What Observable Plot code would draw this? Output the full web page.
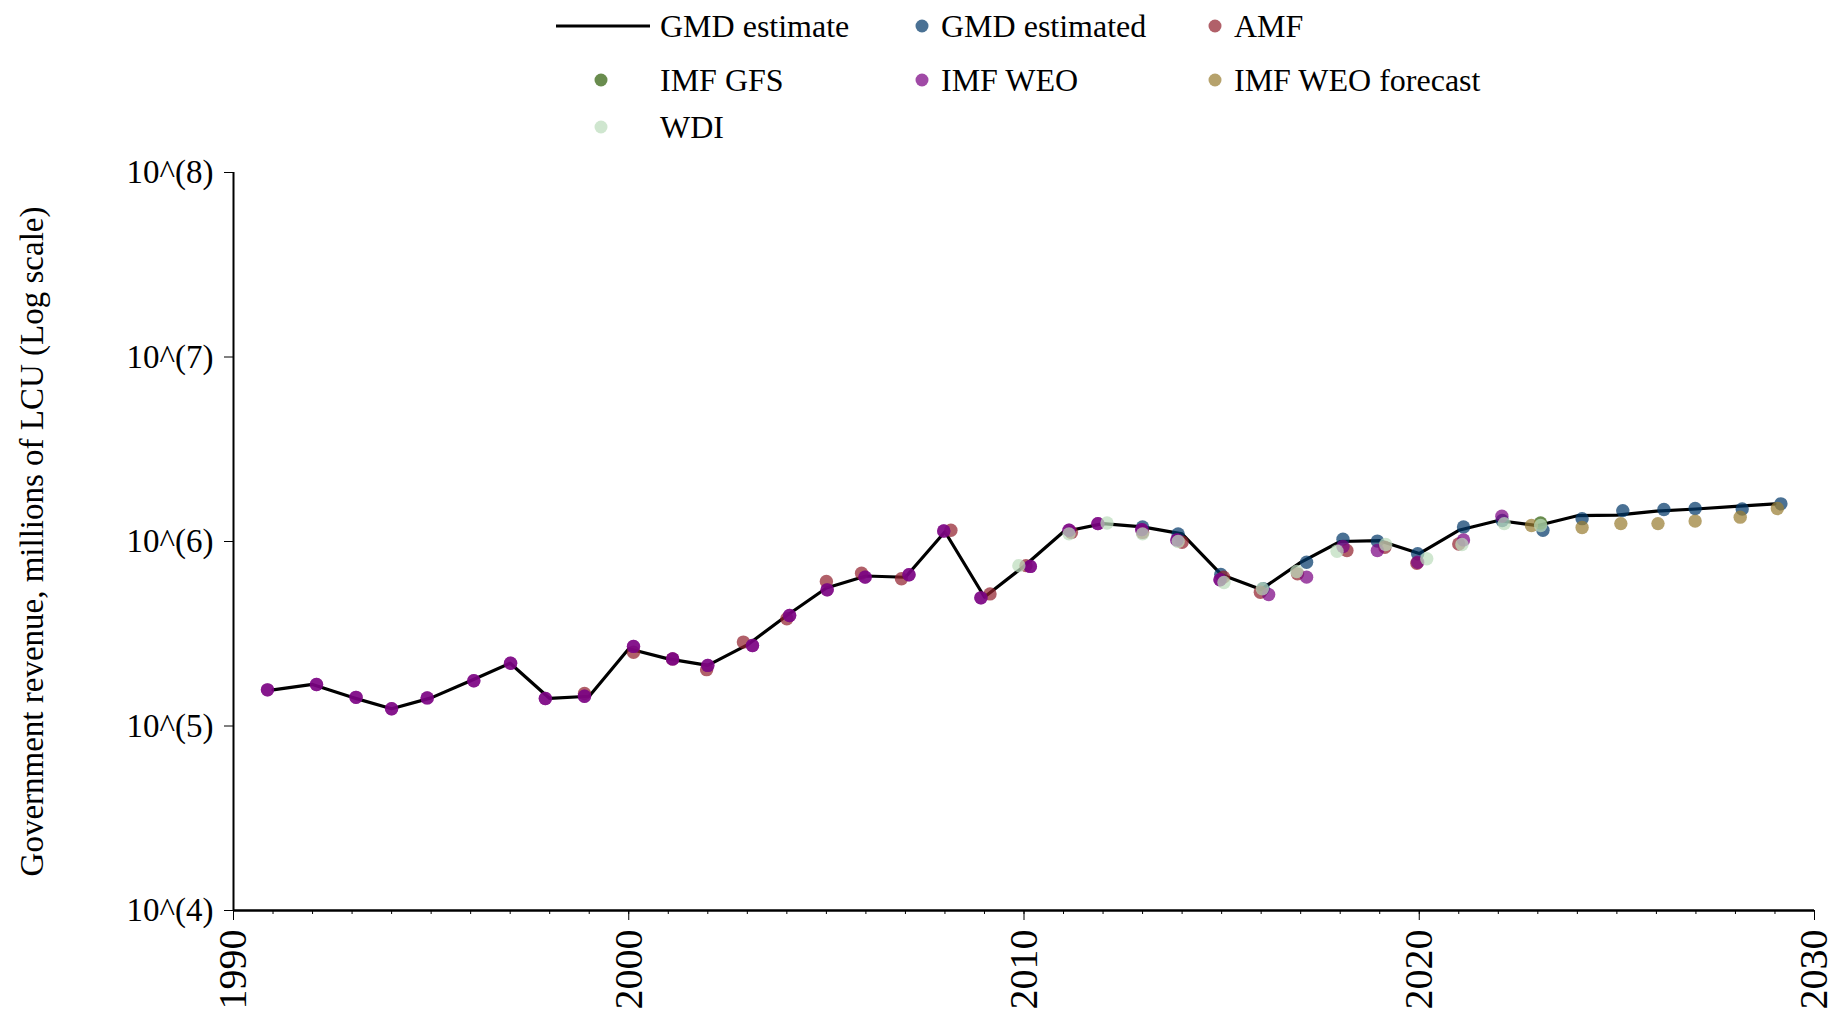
<!DOCTYPE html>
<html>
<head>
<meta charset="utf-8">
<script src="https://cdn.jsdelivr.net/npm/d3@7"></script>
<script src="https://cdn.jsdelivr.net/npm/@observablehq/plot@0.6"></script>
<style>
  html, body { margin: 0; padding: 0; background: #fff; }
  body { width: 1837px; height: 1013px; overflow: hidden; font-family: "Liberation Serif", "Times New Roman", serif; }
  #legend { position: relative; width: 1837px; height: 150px; }
  .lg-text { position: absolute; font-size: 32px; line-height: 32px; color: #000; transform: translateY(-50%); white-space: nowrap; }
  .lg-dot { position: absolute; width: 13px; height: 13px; border-radius: 50%; transform: translate(-50%, -50%); }
  .lg-line { position: absolute; height: 3px; background: #000; transform: translateY(-50%); }
  #chart svg { display: block; }
</style>
</head>
<body>
<div id="legend"></div>
<div id="chart"></div>
<script>
// ---------- data ----------
const lineYears = [1991,1992,1993,1994,1995,1996,1997,1998,1999,2000,2001,2002,2003,2004,2005,2006,2007,2008,2009,2010,2011,2012,2013,2014,2015,2016,2017,2018,2019,2020,2021,2022,2023,2024,2025,2026,2027,2028,2029];
const gmdEstimate = [1.57e5,1.68e5,1.43e5,1.24e5,1.42e5,1.76e5,2.19e5,1.41e5,1.45e5,2.62e5,2.31e5,2.13e5,2.75e5,3.97e5,5.6e5,6.5e5,6.4e5,1.13e6,5.0e5,7.35e5,1.13e6,1.25e6,1.20e6,1.10e6,6.6e5,5.5e5,7.7e5,1.0e6,1.01e6,8.6e5,1.15e6,1.30e6,1.22e6,1.38e6,1.39e6,1.46e6,1.50e6,1.55e6,1.60e6];

// source points (x = year as placed in the picture, points are slightly jittered)
const gmdEstYears = [2013.0,2013.9,2014.98,2016.05,2017.15,2018.07,2018.94,2019.96,2021.12,2022.1,2023.13,2024.12,2025.15,2026.19,2026.98,2028.17,2029.15];
const gmdEstValues = [1.20e6,1.10e6,6.63e5,5.54e5,7.72e5,1.03e6,1.005e6,8.58e5,1.20e6,1.30e6,1.15e6,1.33e6,1.47e6,1.49e6,1.51e6,1.50e6,1.60e6];

const amfYears = [1998.88,2000.12,2001.11,2001.97,2002.9,2004.0,2005.0,2005.89,2006.9,2008.15,2009.14,2010.05,2011.2,2013.0,2014.0,2015.05,2015.98,2016.92,2018.17,2019.13,2019.94,2021.0];
const amfValues = [1.50e5,2.51e5,2.31e5,2.02e5,2.85e5,3.81e5,6.07e5,6.73e5,6.28e5,1.15e6,5.2e5,7.4e5,1.12e6,1.12e6,0.99e6,6.41e5,5.31e5,6.68e5,8.94e5,9.3e5,7.62e5,9.7e5];

const gfsYears = [2023.07];
const gfsValues = [1.26e6];

const weoYears = [1990.86,1992.1,1993.1,1994.0,1994.9,1996.08,1997.01,1997.89,1998.88,2000.12,2001.11,2002.0,2003.13,2004.07,2005.02,2005.98,2007.09,2007.97,2008.91,2010.16,2011.14,2011.87,2012.98,2013.87,2014.96,2016.19,2017.15,2018.07,2018.94,2019.96,2021.12,2022.09];
const weoValues = [1.57e5,1.68e5,1.43e5,1.24e5,1.42e5,1.76e5,2.19e5,1.41e5,1.45e5,2.70e5,2.31e5,2.13e5,2.73e5,3.97e5,5.47e5,6.41e5,6.6e5,1.14e6,4.95e5,7.33e5,1.15e6,1.25e6,1.16e6,1.02e6,6.2e5,5.16e5,6.41e5,9.4e5,8.94e5,7.72e5,1.02e6,1.37e6];
// earlier WEO vintage, lying under the current one (same readings)
const weoPriorYears = weoYears.slice(0, 25);
const weoPriorValues = weoValues.slice(0, 25);

const forecastYears = [2022.84,2024.12,2025.1,2026.04,2026.98,2028.12,2029.06];
const forecastValues = [1.22e6,1.19e6,1.25e6,1.25e6,1.29e6,1.355e6,1.51e6];

const wdiYears = [2009.87,2011.14,2012.1,2013.0,2013.9,2015.06,2016.03,2016.9,2017.92,2019.15,2020.19,2021.08,2022.15,2023.07];
const wdiValues = [7.4e5,1.10e6,1.26e6,1.10e6,1.0e6,6.0e5,5.54e5,6.88e5,8.85e5,9.63e5,8.06e5,9.63e5,1.25e6,1.22e6];

const yTicks = [1e4,1e5,1e6,1e7,1e8];
const xMajorTicks = [1990,2000,2010,2020,2030];
const xMinorTicks = d3.range(1990, 2031);

const seriesNames = ["GMD estimated","AMF","IMF GFS","IMF WEO","IMF WEO forecast","WDI"];
const seriesColors = ["#043a6b","#93232f","#2f5f0a","#7c0484","#9a7e33","#bcdcbc"];
const dotOpacity = 0.72;

// ---------- build tables ----------
const zip = (xs, vs, s) => xs.map((x, i) => ({year: x, value: vs[i], source: s}));
const lineData = zip(lineYears, gmdEstimate, "GMD estimate");
const layers = [
  zip(gmdEstYears, gmdEstValues, "GMD estimated"),
  zip(amfYears, amfValues, "AMF"),
  zip(gfsYears, gfsValues, "IMF GFS"),
  zip(weoPriorYears, weoPriorValues, "IMF WEO"),
  zip(weoYears, weoValues, "IMF WEO"),
  zip(forecastYears, forecastValues, "IMF WEO forecast"),
  zip(wdiYears, wdiValues, "WDI")
];

// ---------- legend ----------
const legend = document.getElementById("legend");
function add(html) { legend.insertAdjacentHTML("beforeend", html); }
const rowY = [26, 80, 127];
const colDot = [601, 922, 1215];
const colText = [660, 941, 1234];
const legendItems = [{name: "GMD estimate", line: true}].concat(seriesNames.map((n, i) => ({name: n, color: seriesColors[i]})));
legendItems.forEach((it, i) => {
  const r = Math.floor(i / 3), c = i % 3;
  if (it.line) {
    add(`<div class="lg-line" style="left:556px;width:94px;top:${rowY[r]}px"></div>`);
  } else {
    add(`<div class="lg-dot" style="left:${colDot[c]}px;top:${rowY[r]}px;background:${it.color};opacity:${dotOpacity}"></div>`);
  }
  add(`<div class="lg-text" style="left:${colText[c]}px;top:${rowY[r]}px">${it.name}</div>`);
});

// ---------- chart ----------
const chart = Plot.plot({
  width: 1837,
  height: 863,
  marginTop: 22,
  marginBottom: 103,
  marginLeft: 233,
  marginRight: 23,
  style: {fontFamily: "'Liberation Serif', 'Times New Roman', serif", color: "#000", background: "#fff"},
  x: {domain: [1990, 2030]},
  y: {type: "log", domain: [1e4, 1e8]},
  color: {domain: seriesNames, range: seriesColors},
  marks: [
    Plot.axisY({
      ticks: yTicks,
      tickFormat: d => `10^(${Math.round(Math.log10(d))})`,
      tickSize: 9,
      tickPadding: 11,
      fontSize: 33,
      label: "Government revenue, millions of LCU (Log scale)",
      labelAnchor: "center",
      labelArrow: "none",
      labelOffset: 214
    }),
    Plot.axisX({ticks: xMinorTicks, tickSize: 4, tickFormat: () => "", label: null}),
    Plot.axisX({
      ticks: xMajorTicks,
      tickSize: 10,
      tickPadding: 9,
      tickRotate: -90,
      tickFormat: d => String(d),
      fontSize: 40,
      label: null
    }),
    Plot.ruleX([1990], {stroke: "#000", strokeWidth: 2}),
    Plot.ruleY([1e4], {stroke: "#000", strokeWidth: 2.5}),
    Plot.line(lineData, {x: "year", y: "value", stroke: "#000", strokeWidth: 3.2}),
    ...layers.map(d => Plot.dot(d, {x: "year", y: "value", fill: "source", r: 6.7, fillOpacity: dotOpacity, stroke: null}))
  ]
});
document.getElementById("chart").appendChild(chart);
</script>
</body>
</html>
